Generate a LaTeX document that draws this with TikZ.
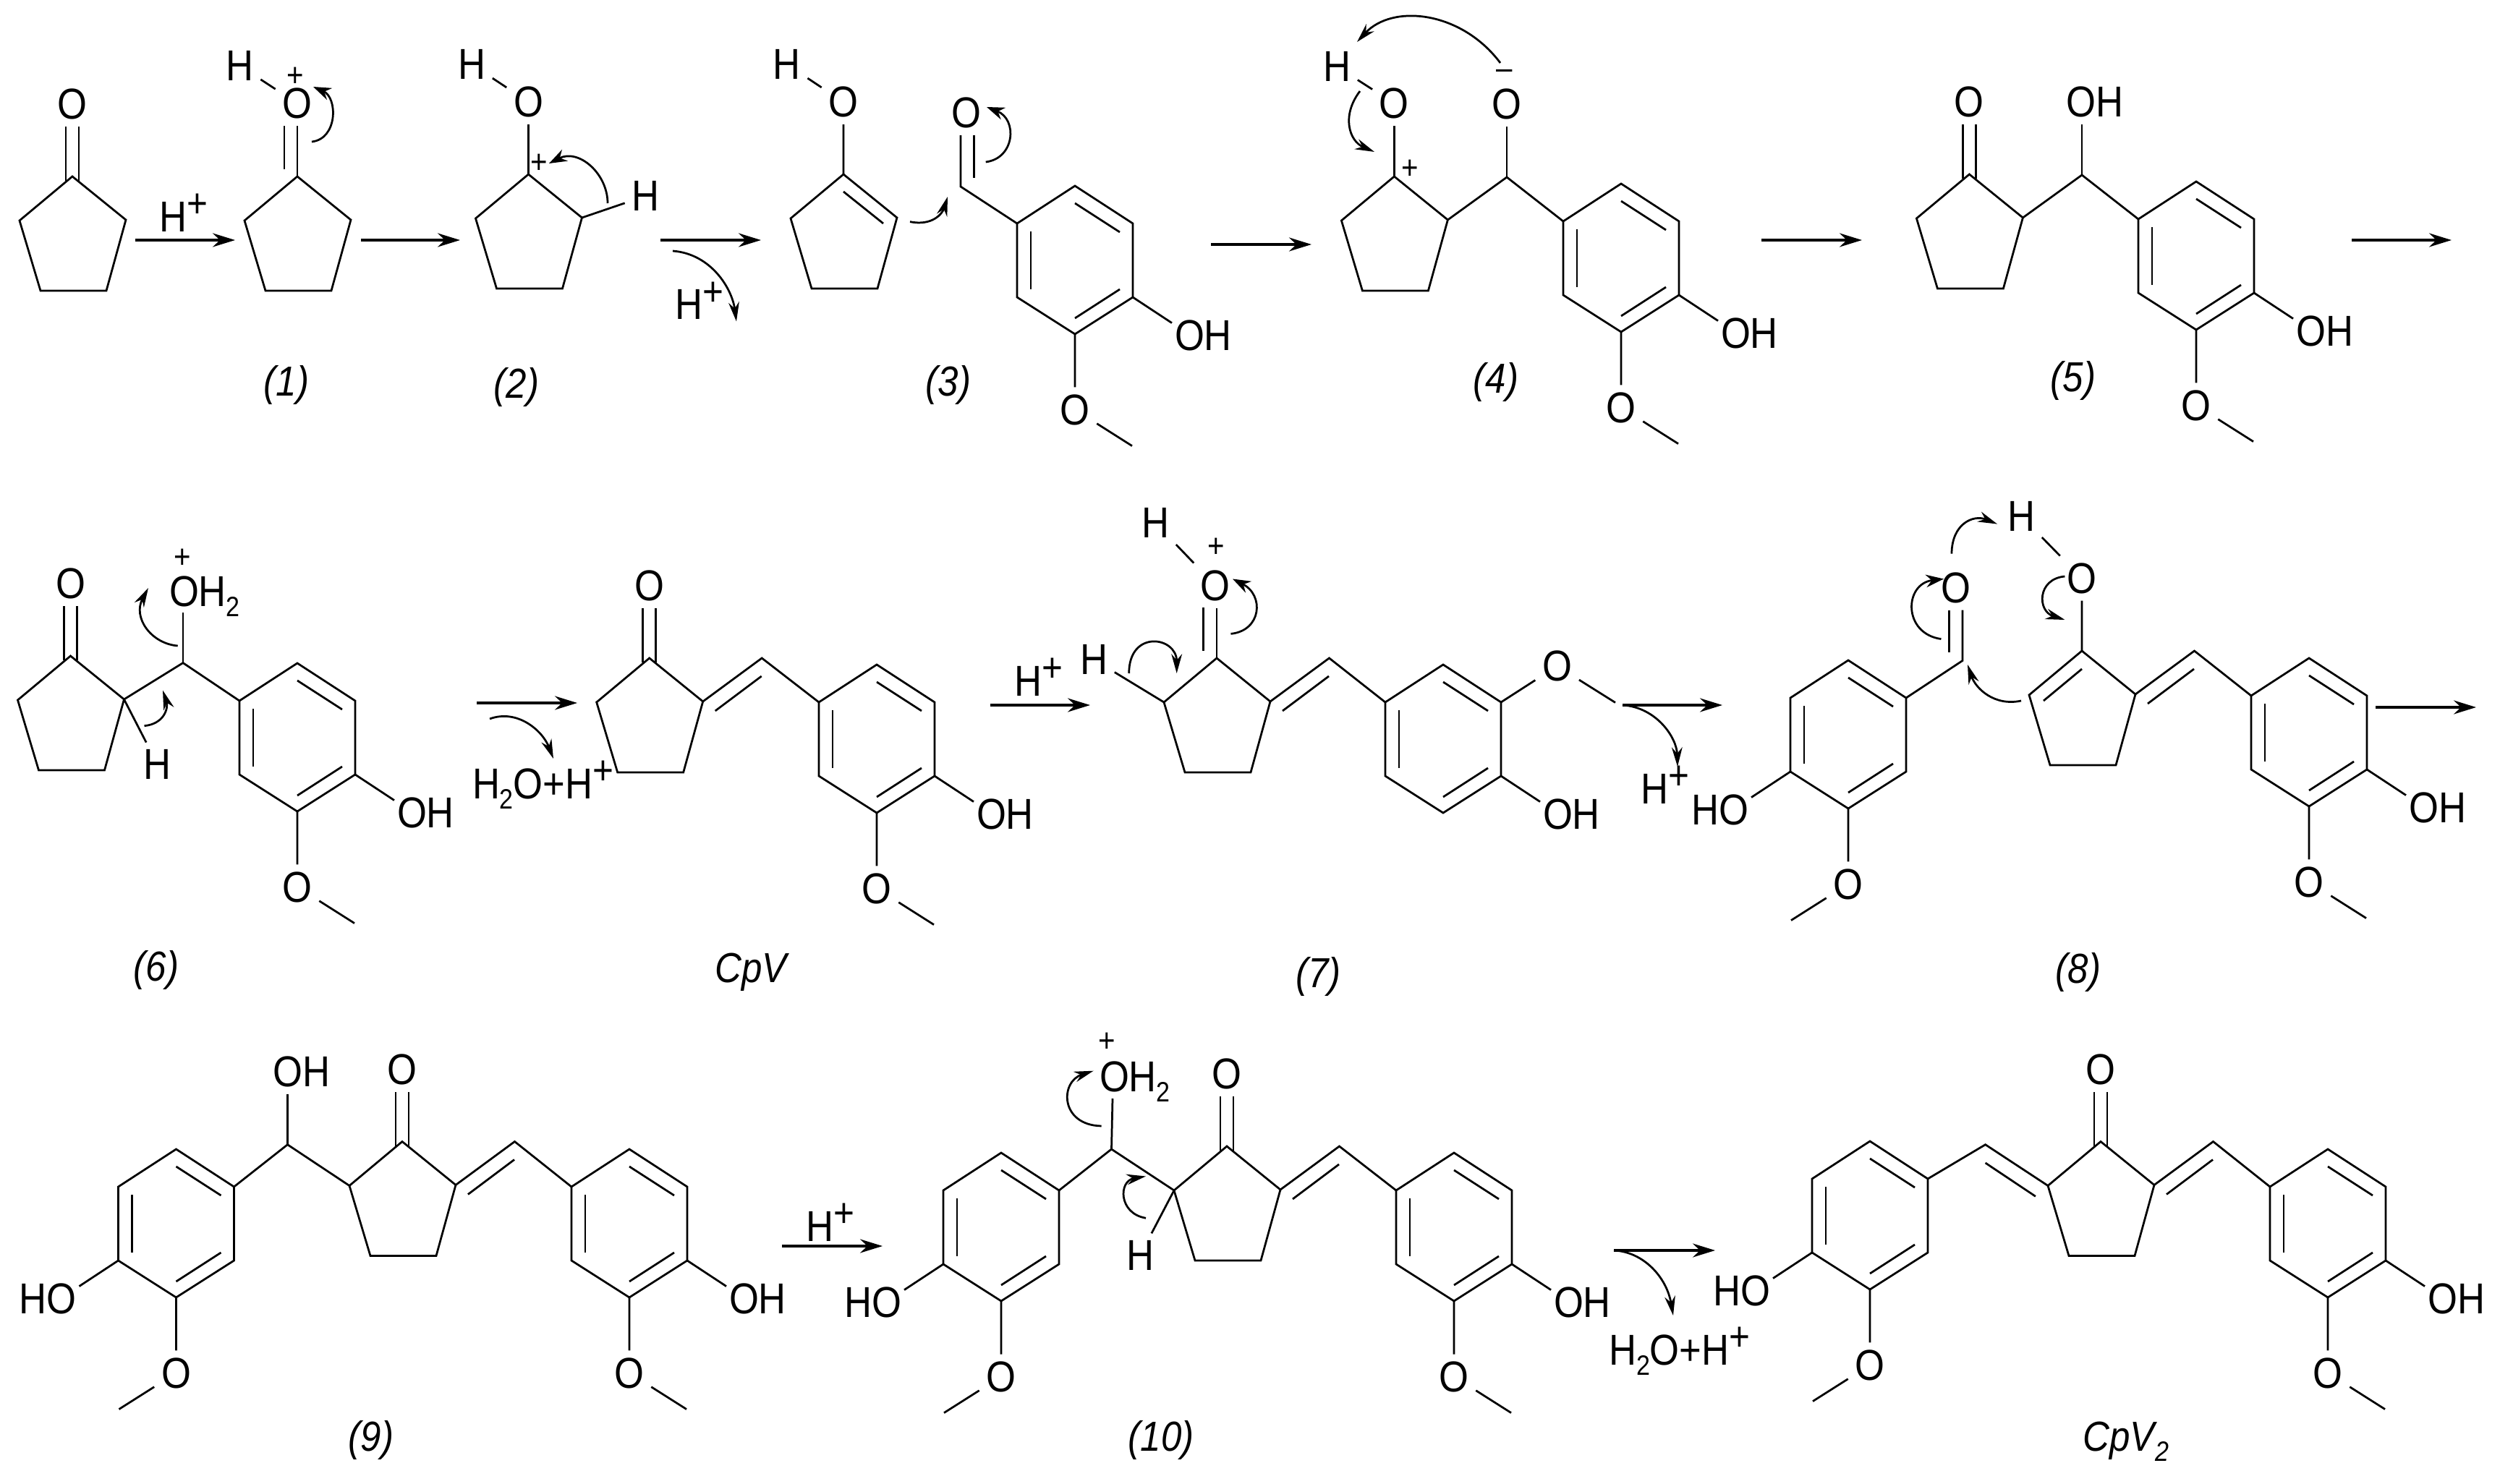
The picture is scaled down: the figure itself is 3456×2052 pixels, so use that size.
\documentclass[tikz,border=0pt]{standalone}
\usepackage{fontspec}
\setmainfont[FakeStretch=0.88]{Liberation Sans}
\usetikzlibrary{arrows.meta}

\tikzset{
  bond/.style={line width=.78pt},
  rxn/.style={line width=1pt,-{Stealth[length=8.8pt,width=5.4pt]}},
  curl/.style={line width=.78pt,-{Stealth[length=7pt,width=5pt]}},
  slim/.style={-{Stealth[length=7.6pt,width=4.2pt]}},
  atom/.style={inner sep=0pt,outer sep=2.8pt,font=\fontsize{17}{20}\selectfont},
  txt/.style={inner sep=0pt,outer sep=0pt,font=\fontsize{17}{20}\selectfont},
  charge/.style={inner sep=0pt,font=\fontsize{13}{15}\selectfont},
  tag/.style={inner sep=0pt,font=\fontsize{16.5}{19}\selectfont\itshape}
}
\newcommand{\Hp}{H\raisebox{5.6pt}{\fontsize{16}{16}\selectfont +}}
\newcommand{\Two}{\raisebox{-4pt}{\fontsize{11}{11}\selectfont 2}}
% pentagon, upper vertex at #2,#3
\newcommand{\penta}[3]{%
  \coordinate (#1a) at (#2,#3);
  \coordinate (#1b) at ([shift={(74,60)}]#1a);
  \coordinate (#1c) at ([shift={(47,158)}]#1a);
  \coordinate (#1d) at ([shift={(-44,158)}]#1a);
  \coordinate (#1e) at ([shift={(-73,61)}]#1a);
  \draw[bond] (#1a) -- (#1b) -- (#1c) -- (#1d) -- (#1e) -- cycle;
}
% hexagon, upper vertex at #2,#3
\newcommand{\hexa}[3]{%
  \coordinate (#1a) at (#2,#3);
  \coordinate (#1b) at ([shift={(80,52)}]#1a);
  \coordinate (#1c) at ([shift={(80,154)}]#1a);
  \coordinate (#1d) at ([shift={(0,205)}]#1a);
  \coordinate (#1e) at ([shift={(-80,154)}]#1a);
  \coordinate (#1f) at ([shift={(-80,52)}]#1a);
  \draw[bond] (#1a) -- (#1b) -- (#1c) -- (#1d) -- (#1e) -- (#1f) -- cycle;
  \draw[bond] ([shift={(0,24)}]#1a) -- ([shift={(62,64)}]#1a);
  \draw[bond] ([shift={(-61,63)}]#1a) -- ([shift={(-61,143)}]#1a);
  \draw[bond] ([shift={(62,143)}]#1a) -- ([shift={(0,183)}]#1a);
}
% hexagon with OH and OMe, #4 is the side: 1 right, -1 left
\newcommand{\vanillyl}[4]{%
  \hexa{#1}{#2}{#3}
  \node[atom] (#1oh) at ([shift={(#4*177.5,207)}]#1a) {\ifnum#4>0 OH\else HO\fi};
  \node[atom] (#1ome) at ([shift={(0,309.5)}]#1a) {O};
  \coordinate (#1me) at ([shift={(#4*79,359.6)}]#1a);
  \coordinate (#1ob) at ([shift={(#4*134,189.6)}]#1a);
  \draw[bond] (#1d) -- (#1ome) -- (#1me);
  \ifnum#4>0 \draw[bond] (#1c) -- (#1ob); \else \draw[bond] (#1e) -- (#1ob); \fi
}
\newcommand{\ketone}[1]{%
  \node[atom] (#1o) at ([shift={(0,-100)}]#1a) {O};
  \draw[bond] ([shift={(-9,6)}]#1a) -- ++(0,-75);
  \draw[bond] ([shift={(9,6)}]#1a) -- ++(0,-75);
}
% double bond out of the pentagon to the right, then on to a hexagon
\newcommand{\exo}[2]{%
  \coordinate (#1x) at ([shift={(155.5,0)}]#1a);
  \draw[bond] (#1b) -- (#1x) -- (#2f);
  \draw[bond] ([shift={(91,73)}]#1a) -- ([shift={(155,25)}]#1a);
}
\newcommand{\curl}[6][]{%
  \coordinate (#2s) at (#3);
  \coordinate (#2e) at (#6);
  \draw[curl,#1] (#2s) .. controls (#4) and (#5) .. (#2e);
}

\begin{document}
\begin{tikzpicture}[x=0.01cm,y=-0.01cm]
  \useasboundingbox (0,0) rectangle (3456,2052);

  \foreach \nm/\px/\py in {p0/100/244,p1/411/244,p2/730.5/241,p3/1166/241,p4/1927.4/244,
    p5/2722.4/241,p6/97.5/907,pv/897.7/910,p7/1682/910,p8/2878/900,p9/556/1578.5,
    p10/1696/1585,pw/2904/1578.5}
    {\penta{\nm}{\px}{\py}}

  \foreach \nm/\px/\py/\sd in {r3/1486/257/1,r4/2241/254/1,r5/3036/251/1,r6/411/917/1,
    rv/1212/919/1,s8/3192/910/1,s9/870/1589/1,s10/2010/1594/1,sw/3218/1589/1,
    r8/2555/913/-1,r9/243.5/1589/-1,r10/1384/1594/-1,rw/2585/1578/-1}
    {\vanillyl{\nm}{\px}{\py}{\sd}}
  \hexa{r7}{1995}{919}

  \foreach \nm in {p0,p5,p6,pv,p9,p10,pw}
    {\ketone{\nm}}

  % (1)
  \node[atom] (p1o) at (411,143) {O};
  \node[atom] (h1) at (331.5,91) {H};
  \node[charge] (q1) at (408.5,106) {+};
  \draw[bond] (h1) -- (p1o);
  \draw[bond] (p1a) -- (p1a |- p1o.south);
  \draw[bond] ([shift={(-18,-10)}]p1a) -- ++(0,-60);
  \curl{k1}{431,196}{467,192}{467,135}{433,120}

  % (2)
  \node[atom] (p2o) at (730.5,141) {O};
  \node[atom] (h2) at (652,89) {H};
  \node[atom] (h2b) at (892.6,271) {H};
  \node[charge] (q2) at (745,226) {+};
  \draw[bond] (h2) -- (p2o) -- (p2a);
  \draw[bond] (p2b) -- (h2b);
  \curl{k2}{840,281}{840,240}{800,205}{759,226}

  % (3)
  \node[atom] (p3o) at (1166,141) {O};
  \node[atom] (h3) at (1087.6,89) {H};
  \coordinate (c3) at (1328,258);
  \node[atom] (o3) at (1335.6,156) {O};
  \draw[bond] (h3) -- (p3o) -- (p3a);
  \draw[bond] ([shift={(0,24)}]p3a) -- ([shift={(55,68)}]p3a);
  \draw[bond] (r3f) -- (c3) -- (c3 |- o3.south);
  \draw[bond] ([shift={(18.5,-12)}]c3) -- ++(0,-59);
  \curl[slim]{k3a}{1258,306.6}{1289,313}{1303,295}{1310,272}
  \curl{k3b}{1362.7,224}{1403,219}{1407,165}{1364,148}

  % (4)
  \node[atom] (p4o) at (1927.4,143) {O};
  \node[atom] (h4) at (1848,92) {H};
  \node[charge] (q4) at (1949.4,234) {+};
  \coordinate (c4) at (2083,245);
  \node[atom] (o4) at (2083,144) {O};
  \node[charge] (m4) at (2080,103) {--};
  \draw[bond] (h4) -- (p4o) -- (p4a);
  \draw[bond] (p4b) -- (c4) -- (r4f);
  \draw[bond] (c4) -- (o4);
  \curl[slim]{k4a}{2074,87}{2020,15}{1925,5}{1876,58}
  \curl[slim]{k4b}{1880,126}{1854,160}{1865,195}{1900,210}

  % (5)
  \coordinate (c5) at (2878,242);
  \node[atom] (oh5) at (2896,141) {OH};
  \draw[bond] (p5b) -- (c5) -- (r5f);
  \draw[bond] (c5) -- (c5 |- oh5.south);

  % (6)
  \coordinate (c6) at (253,916.6);
  \coordinate (b6) at (253,847.4);
  \node[txt,anchor=base west] (oh6) at (234,838) {OH\Two};
  \node[charge] (q6) at (252,772) {+};
  \node[atom] (h6) at (217.8,1057) {H};
  \draw[bond] (p6b) -- (c6) -- (r6f);
  \draw[bond] (c6) -- (b6);
  \draw[bond] (p6b) -- (h6);
  \curl[slim]{k6a}{245.7,893}{209,890}{183,854}{205,813}
  \curl[slim]{k6b}{199.5,1003.7}{227,1001}{233,979}{225,954.6}

  % CpV
  \exo{pv}{rv}

  % (7)
  \node[atom] (p7o) at (1680,809.5) {O};
  \node[atom] (h7) at (1597,723) {H};
  \node[charge] (q7) at (1681.7,757) {+};
  \node[atom] (h7b) at (1512,912) {H};
  \node[atom] (o7) at (2152.6,921) {O};
  \node[atom] (oh7) at (2172.5,1126) {OH};
  \coordinate (me7) at (2233,971.5);
  \coordinate (ob7) at (2129,1108.6);
  \draw[bond] (h7) -- (p7o);
  \draw[bond] (p7a) -- (p7a |- p7o.south);
  \draw[bond] ([shift={(-18.5,-10)}]p7a) -- ++(0,-60);
  \draw[bond] (p7e) -- (h7b);
  \exo{p7}{r7}
  \draw[bond] (r7b) -- (o7) -- (me7);
  \draw[bond] (r7c) -- (ob7);
  \curl{k7a}{1701.5,876.4}{1744,872}{1748,823}{1704,800.5}
  \curl[slim]{k7b}{1560.7,931}{1560.7,870}{1626.7,880}{1626.7,931}

  % (8)
  \node[atom] (p8o) at (2878,799.6) {O};
  \node[atom] (h8) at (2794,713.5) {H};
  \coordinate (c8) at (2713,913.5);
  \node[atom] (o8) at (2704,812.6) {O};
  \draw[bond] (h8) -- (p8o) -- (p8a);
  \draw[bond] ([shift={(0,25)}]p8a) -- ([shift={(-53,69)}]p8a);
  \draw[bond] (r8b) -- (c8) -- (c8 |- o8.south);
  \draw[bond] ([shift={(-18.5,-12)}]c8) -- ++(0,-58);
  \exo{p8}{s8}
  \curl{k8a}{2683.4,883.6}{2630,876}{2632,807}{2687,800.5}
  \curl[slim]{k8b}{2698,765.7}{2698,724.6}{2727.6,711}{2761,724.6}
  \curl[slim]{k8c}{2854.4,797}{2816,800.5}{2816,845}{2854.4,857}
  \curl[slim]{k8d}{2794,969}{2757,977}{2731,952}{2720,919}

  % (9)
  \coordinate (c9) at (397.5,1582.7);
  \node[atom] (oh9) at (416.6,1482) {OH};
  \draw[bond] (p9e) -- (c9) -- (r9b);
  \draw[bond] (c9) -- (c9 |- oh9.south);
  \exo{p9}{s9}

  % (10)
  \coordinate (c10) at (1536.5,1589);
  \coordinate (b10) at (1538,1519);
  \node[txt,anchor=base west] (oh10) at (1520,1509) {OH\Two};
  \node[charge] (q10) at (1530.6,1441) {+};
  \node[atom] (h10) at (1576,1735.8) {H};
  \draw[bond] (p10e) -- (c10) -- (r10b);
  \draw[bond] (c10) -- (b10);
  \draw[bond] (p10e) -- (h10);
  \exo{p10}{s10}
  \curl[slim]{k10a}{1522.6,1557}{1465,1555.7}{1465,1495.7}{1511.6,1480.7}
  \curl[slim]{k10b}{1584,1684.3}{1546,1678}{1546,1633}{1584,1626.5}

  % CpV2
  \coordinate (cw) at (2744.6,1582.7);
  \draw[bond] (rwb) -- (cw) -- (pwe);
  \draw[bond] (2744.6,1608) -- (2813.9,1654.3);
  \exo{pw}{sw}

  % reaction arrows
  \foreach \nm/\xa/\xb/\yy in {a1/187/325/332,a2/499/636/332,a3/913/1052/332,a4/1674/1813/338,
    a5/2435/2574/332,a6/3251/3389/332,a7/659/798/972,a8/1369/1507/975,a9/2243/2381/975,
    a10/3284/3423/978,a11/1081/1220/1723,a12/2231/2371/1729}
    {\coordinate (\nm s) at (\xa,\yy);
     \coordinate (\nm e) at (\xb,\yy);
     \draw[rxn] (\nm s) -- (\nm e);}
  \curl[slim]{k13}{930,347}{983,351}{1012,399}{1018,444.5}
  \curl[slim]{k14}{677,994}{715,980}{750,1010}{765,1049}
  \curl[slim]{k15}{2243,975}{2290,978}{2318,1020}{2319,1060}
  \curl[slim]{k16}{2231,1729}{2272,1731}{2304,1766}{2313,1819}

  \foreach \nm/\px/\py in {h+a/220.5/320.5,h+b/933.5/442,h+c/1402.5/962.5,h+d/2268.5/1111,h+e/1114.5/1716.5}
    {\node[txt,anchor=base west] (\nm) at (\px,\py) {\Hp};}
  \node[txt,anchor=base west] (wa) at (653,1104) {H\Two O+\Hp};
  \node[txt,anchor=base west] (wb) at (2224,1887) {H\Two O+\Hp};

  % compound numbers
  \foreach \nm/\px/\py/\tx in {t1/396/532/(1),t2/714/535/(2),t3/1311/532/(3),t4/2068/528/(4),
    t5/2866/526/(5),t6/216/1341/(6),tv/1038/1344/CpV,t7/1822.5/1350/(7),t8/2873/1344/(8),
    t9/513/1991/(9),t10/1605/1991/(10)}
    {\node[tag] (\nm) at (\px,\py) {\tx};}
  \node[tag,anchor=base west] (tw) at (2879,2006) {CpV\Two};
\end{tikzpicture}
\end{document}
